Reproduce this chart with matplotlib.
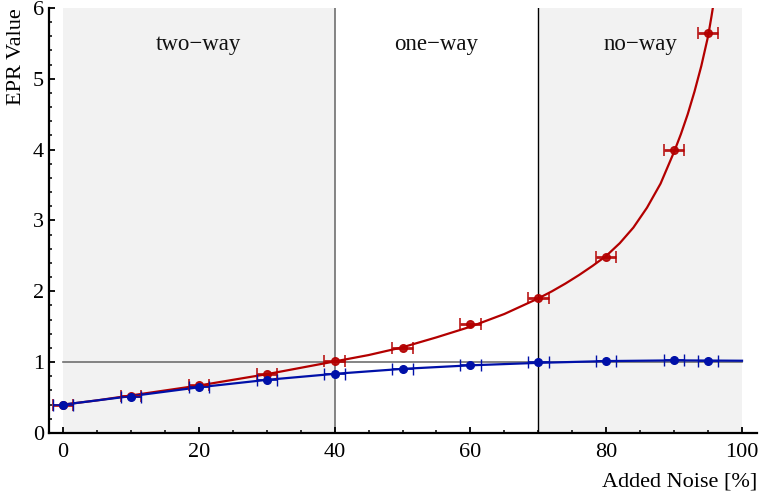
import matplotlib
matplotlib.use("Agg")
import matplotlib.pyplot as plt
from matplotlib.ticker import MultipleLocator

plt.rcParams['font.family'] = ['Liberation Serif', 'DejaVu Serif']

# measured data points
noise = [0, 10, 20, 30, 40, 50, 60, 70, 80, 90, 95]
red_vals = [0.39, 0.52, 0.68, 0.83, 1.01, 1.20, 1.535, 1.90, 2.48, 4.00, 5.64]
blue_vals = [0.39, 0.51, 0.65, 0.75, 0.835, 0.905, 0.955, 1.00, 1.02, 1.03, 1.02]
x_err = [1.5] * len(noise)

# fitted curves
red_fit_x = [0, 5, 10, 15, 20, 25, 30, 35, 40, 45, 50, 55, 60, 65, 70, 72, 74, 76, 78,
             80, 82, 84, 86, 88, 90, 91, 92, 93, 94, 95, 95.5, 95.7]
red_fit_y = [0.40, 0.46, 0.53, 0.60, 0.67, 0.75, 0.83, 0.92, 1.01, 1.10, 1.21, 1.35, 1.50,
             1.68, 1.90, 2.00, 2.11, 2.23, 2.36, 2.50, 2.68, 2.90, 3.18, 3.52, 3.97, 4.22,
             4.50, 4.82, 5.18, 5.60, 5.88, 6.0]
blue_fit_x = [0, 10, 20, 30, 40, 50, 60, 70, 80, 90, 100]
blue_fit_y = [0.40, 0.52, 0.645, 0.75, 0.835, 0.905, 0.955, 0.99, 1.015, 1.025, 1.02]

region_labels = ["two\u2212way", "one\u2212way", "no\u2212way"]
region_label_x = [20, 55, 85]

red = '#b30000'
blue = '#0010a8'

fig = plt.figure(figsize=(7.61, 4.97), dpi=100)
ax = fig.add_axes([0.065, 0.1288, 0.9297, 0.8552])
ax.set_xlim(-2, 102.2)
ax.set_ylim(0, 6)

ax.axvspan(0, 40, color='#f2f2f2', zorder=0, lw=0)
ax.axvspan(70, 100, color='#f2f2f2', zorder=0, lw=0)
ax.plot([0, 100], [1, 1], color='#707070', lw=1.2, zorder=1)
ax.plot([40, 40], [0, 6], color='#707070', lw=1.2, zorder=1)
ax.plot([70, 70], [0, 6], color='black', lw=1.0, zorder=1)

ax.plot(red_fit_x, red_fit_y, color=red, lw=1.6, zorder=3)
ax.plot(blue_fit_x, blue_fit_y, color=blue, lw=1.6, zorder=3)

ax.errorbar(noise, red_vals, xerr=x_err, fmt='o', color=red, ms=5.5,
            ecolor=red, elinewidth=2.0, capsize=4, capthick=1.2, alpha=0.9, zorder=4)
ax.errorbar(noise, blue_vals, xerr=x_err, fmt='o', color=blue, ms=5.5,
            ecolor=blue, elinewidth=1.2, capsize=4, capthick=1.0, zorder=5)

for lab, xx in zip(region_labels, region_label_x):
    ax.text(xx, 5.48, lab, ha='center', va='center', fontsize=16.5, color='#111111')

for s in ['top', 'right']:
    ax.spines[s].set_visible(False)
for s in ['left', 'bottom']:
    ax.spines[s].set_linewidth(1.6)
ax.spines['left'].set_bounds(0, 6)

ax.xaxis.set_major_locator(MultipleLocator(20))
ax.xaxis.set_minor_locator(MultipleLocator(5))
ax.yaxis.set_major_locator(MultipleLocator(1))
ax.yaxis.set_minor_locator(MultipleLocator(0.2))
ax.tick_params(which='major', direction='in', length=4, width=1.3, labelsize=16, pad=7)
ax.tick_params(which='minor', direction='in', length=2.5, width=1.1)
ax.tick_params(axis='y', which='major', pad=4)

ax.set_xlabel('Added Noise [%]', fontsize=16, loc='right', labelpad=8)
ax.set_ylabel('EPR Value', fontsize=16, loc='top', labelpad=5)

fig.savefig('out.png', dpi=100)
